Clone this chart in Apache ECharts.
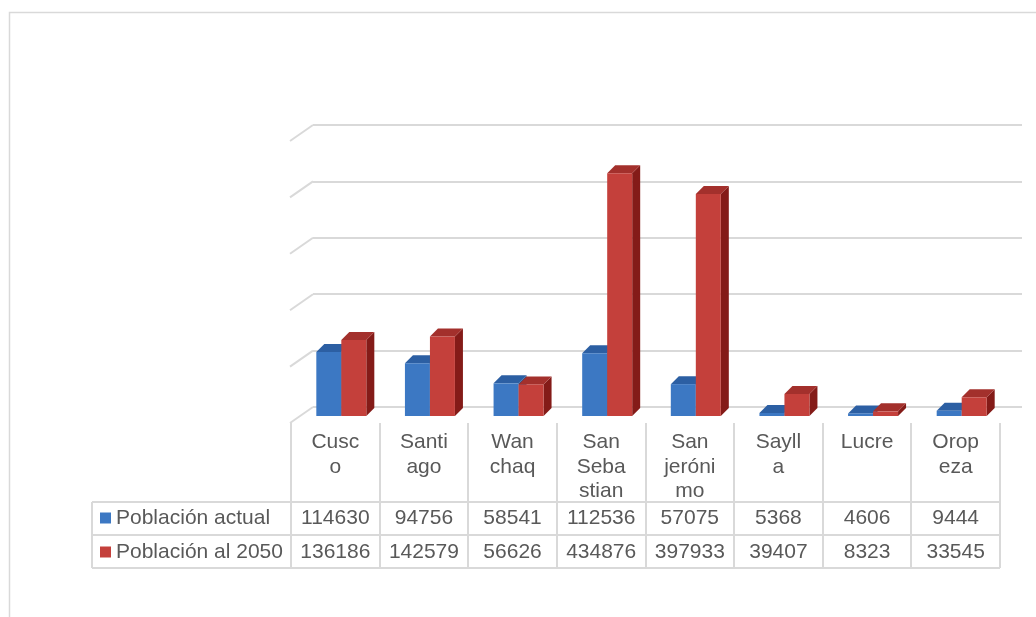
<!DOCTYPE html>
<html lang="es">
<head>
  <meta charset="UTF-8">
  <title>Población actual y al 2050</title>
  <style>
    * { margin: 0; padding: 0; }
    body { background: #ffffff; }
    #main { width: 1036px; height: 617px; }
  </style>
</head>
<body>
  <div id="main"></div>
  <script src="https://cdn.jsdelivr.net/npm/echarts@6/dist/echarts.min.js"></script>
  <script>
    // datos
    var categories = ['Cusco', 'Santiago', 'Wanchaq', 'San Sebastian', 'San jerónimo', 'Saylla', 'Lucre', 'Oropeza'];
    // encabezados tal como se cortan en la tabla
    var headerLabels = ['Cusc\no', 'Santi\nago', 'Wan\nchaq', 'San\nSeba\nstian', 'San\njeróni\nmo', 'Sayll\na', 'Lucre', 'Orop\neza'];
    var seriesNames = ['Población actual', 'Población al 2050'];
    var actual = [114630, 94756, 58541, 112536, 57075, 5368, 4606, 9444];
    var pob2050 = [136186, 142579, 56626, 434876, 397933, 39407, 8323, 33545];
    var yTicks = [0, 100000, 200000, 300000, 400000, 500000];

    var colors = [
      { front: '#3c78c3', top: '#2c5fa3', side: '#24508a' },
      { front: '#c4403b', top: '#a3302c', side: '#841b18' }
    ];

    var font = "'Liberation Sans', Arial, sans-serif";
    var textColor = '#595959';
    var lineColor = '#d9d9d9';

    var chart = echarts.init(document.getElementById('main'));

    // barras 3D (cara frontal, tapa y lateral)
    function barRenderer(s) {
      return function (params, api) {
        var idx = api.value(0);
        var top = api.coord([idx, api.value(1)]);
        var base = api.coord([idx, 0]);
        var w = 25, d = 8;
        var left = top[0] - 19 + s * w;
        var right = left + w;
        var c = colors[s];
        return {
          type: 'group',
          children: [
            { type: 'polygon', shape: { points: [[right, top[1]], [right + d, top[1] - d], [right + d, base[1] - d], [right, base[1]]] }, style: { fill: c.side } },
            { type: 'polygon', shape: { points: [[left, top[1]], [left + d, top[1] - d], [right + d, top[1] - d], [right, top[1]]] }, style: { fill: c.top } },
            { type: 'rect', shape: { x: left, y: top[1], width: w, height: base[1] - top[1] }, style: { fill: c.front } }
          ]
        };
      };
    }

    // líneas de la pared izquierda
    function wallRenderer(params, api) {
      var y = api.coord([0, api.value(0)])[1];
      var x = params.coordSys.x;
      return {
        type: 'line',
        shape: { x1: x, y1: y, x2: x - 23, y2: y + 16 },
        style: { stroke: lineColor, lineWidth: 2 }
      };
    }

    // tabla de datos
    var colLeft = 291, colW = 709 / 8, legendLeft = 92;
    var rowLines = [502, 535, 568];
    var rowCenters = [518, 552];
    var graphics = [];
    graphics.push({ type: 'rect', shape: { x: 9.5, y: 12.5, width: 1200, height: 800 }, style: { fill: 'none', stroke: lineColor, lineWidth: 1.5 }, silent: true });
    rowLines.forEach(function (y) {
      graphics.push({ type: 'line', shape: { x1: legendLeft, y1: y, x2: colLeft + colW * 8, y2: y }, style: { stroke: lineColor, lineWidth: 2 } });
    });
    graphics.push({ type: 'line', shape: { x1: legendLeft, y1: 502, x2: legendLeft, y2: 568 }, style: { stroke: lineColor, lineWidth: 2 } });
    for (var i = 0; i <= 8; i++) {
      var x = Math.round(colLeft + colW * i);
      graphics.push({ type: 'line', shape: { x1: x, y1: 423, x2: x, y2: 568 }, style: { stroke: lineColor, lineWidth: 2 } });
    }
    [actual, pob2050].forEach(function (vals, r) {
      graphics.push({ type: 'rect', shape: { x: 100, y: rowCenters[r] - 5.5, width: 11, height: 11 }, style: { fill: colors[r].front } });
      graphics.push({ type: 'text', x: 116, y: rowCenters[r], style: { text: seriesNames[r], font: '21px ' + font, fill: textColor, verticalAlign: 'middle' } });
      vals.forEach(function (v, k) {
        graphics.push({ type: 'text', x: colLeft + colW * (k + 0.5), y: rowCenters[r], style: { text: String(v), font: '21px ' + font, fill: textColor, align: 'center', verticalAlign: 'middle' } });
      });
    });

    var option = {
      animation: false,
      backgroundColor: '#ffffff',
      grid: [
        { left: 313, top: 125, width: 709, height: 282 },
        { left: 291, top: 137, width: 709, height: 279 }
      ],
      xAxis: [
        { type: 'category', gridIndex: 0, data: categories, show: false },
        {
          type: 'category', gridIndex: 1, data: categories,
          axisLine: { show: false }, axisTick: { show: false },
          axisLabel: {
            interval: 0, margin: 14, color: textColor, fontSize: 21, lineHeight: 24.5,
            fontFamily: font,
            formatter: function (val, k) { return headerLabels[k]; }
          }
        }
      ],
      yAxis: [
        {
          type: 'value', gridIndex: 0, min: 0, max: 500000, interval: 100000,
          axisLabel: { show: false }, axisLine: { show: false }, axisTick: { show: false },
          splitLine: { lineStyle: { color: lineColor, width: 2 } }
        },
        {
          type: 'value', gridIndex: 1, min: 0, max: 500000, interval: 100000,
          axisLabel: { show: false }, axisLine: { show: false }, axisTick: { show: false },
          splitLine: { show: false }
        }
      ],
      series: [
        {
          type: 'custom', name: 'pared', xAxisIndex: 0, yAxisIndex: 0,
          data: yTicks.map(function (v) { return [v]; }),
          encode: { y: 0 },
          renderItem: wallRenderer, silent: true
        },
        {
          type: 'custom', name: seriesNames[0], xAxisIndex: 1, yAxisIndex: 1,
          data: actual.map(function (v, k) { return [k, v]; }),
          renderItem: barRenderer(0)
        },
        {
          type: 'custom', name: seriesNames[1], xAxisIndex: 1, yAxisIndex: 1,
          data: pob2050.map(function (v, k) { return [k, v]; }),
          renderItem: barRenderer(1)
        }
      ],
      graphic: graphics
    };

    chart.setOption(option);
  </script>
</body>
</html>
